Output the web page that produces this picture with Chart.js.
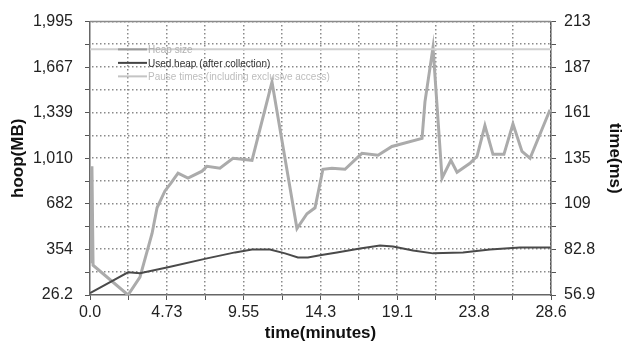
<!DOCTYPE html>
<html>
<head>
<meta charset="utf-8">
<script src="https://cdn.jsdelivr.net/npm/chart.js@4/dist/chart.umd.min.js"></script>
<style>
  html, body { margin: 0; padding: 0; background: #fff; }
  #wrap { width: 623px; height: 342px; }
</style>
</head>
<body>
<div id="wrap"><canvas id="myChart" width="623" height="342"></canvas></div>
<script>
// данные графика
let heapSizeMinutes = [0, 28.6];
let heapSizeMB = [1795, 1795];

let usedMinutes = [0, 2.36, 3.1, 4.84, 7.26, 9.0, 10.05, 11.17, 12.1, 12.9, 13.52, 14.27,
  15.32, 16.75, 17.99, 18.8, 20.04, 21.28, 23.14, 24.81, 26.67, 28.54];
let usedHeapMB = [40, 190, 183, 226, 290, 333, 354, 354, 326, 297, 297, 312,
  333, 361, 383, 376, 347, 326, 333, 354, 369, 369];

let pauseMinutes = [0.06, 0.12, 0.19, 2.36, 3.1, 3.85, 4.16, 4.65, 5.02, 5.46, 6.08, 6.95,
  7.26, 8.06, 8.87, 10.05, 11.29, 12.84, 13.46, 13.96, 14.45, 15.01, 15.82, 16.87,
  17.87, 18.73, 20.6, 20.78, 21.28, 21.84, 22.39, 22.77, 23.57, 24.01, 24.5, 25.0,
  25.68, 26.24, 26.8, 27.3, 28.54];
let pauseMs = [75, 130.4, 73.9, 56.9, 67.1, 92, 106.7, 116.3, 120.8, 126.5, 123.6, 127.6,
  130.4, 129.3, 135, 133.8, 178.5, 94.8, 103.3, 106.7, 128.7, 129.3, 128.7, 137.8,
  136.7, 141.7, 146.3, 167.2, 198.3, 123.6, 133.8, 127, 132.1, 136.1, 153.6, 137.2,
  137.2, 154.7, 138.9, 135, 162.7];

// подписи осей
let xLabels = ['0.0', '4.73', '9.55', '14.3', '19.1', '23.8', '28.6'];
let leftLabels = ['26.2', '354', '682', '1,010', '1,339', '1,667', '1,995'];
let rightLabels = ['56.9', '82.8', '109', '135', '161', '187', '213'];
let legendNames = ['Heap size', 'Used heap (after collection)', 'Pause times (including exclusive access)'];

function toPoints(xs, ys) {
  let pts = [];
  for (let i = 0; i < xs.length; i++) pts.push({ x: xs[i], y: ys[i] });
  return pts;
}

function steps(min, max, n) {
  let arr = [];
  for (let i = 0; i <= n; i++) arr.push({ value: min + (max - min) * i / n });
  return arr;
}

let tickFont = { family: '"Liberation Sans", Arial, sans-serif', size: 16 };
let titleFont = { family: '"Liberation Sans", Arial, sans-serif', size: 17, weight: 'bold', lineHeight: 1 };

let legendColors = ['#9a9a9a', '#444', '#c4c4c4'];
let legendTextColors = ['#b0b0b0', '#333', '#bdbdbd'];

let framePlugin = {
  id: 'frame',
  beforeDatasetsDraw(chart) {
    // пунктирная сетка
    let ctx = chart.ctx;
    let a = chart.chartArea;
    ctx.save();
    ctx.fillStyle = '#8a8a8a';
    chart.scales.x.ticks.forEach((t, i) => {
      if (i === 0) return;
      let x = Math.round(chart.scales.x.getPixelForValue(t.value));
      for (let y = a.bottom - 2; y > a.top + 1; y -= 4) ctx.fillRect(x - 1, y, 1.5, 1.5);
    });
    chart.scales.y.ticks.forEach((t, i) => {
      if (i === 0) return;
      let y = Math.round(chart.scales.y.getPixelForValue(t.value));
      for (let x = a.left + 2; x < a.right - 1; x += 4) ctx.fillRect(x, y - 1, 1.5, 1.5);
    });
    ctx.restore();
  },
  afterDraw(chart) {
    let ctx = chart.ctx;
    let a = chart.chartArea;
    ctx.save();
    ctx.strokeStyle = '#8a8a8a';
    ctx.lineWidth = 1.5;
    ctx.beginPath();
    ctx.moveTo(a.left, a.top);
    ctx.lineTo(a.right, a.top);
    ctx.stroke();
    // легенда внутри графика
    let yHeap = chart.scales.y.getPixelForValue(heapSizeMB[0]);
    ctx.font = '10px "Liberation Sans", Arial, sans-serif';
    ctx.textBaseline = 'middle';
    for (let i = 0; i < legendNames.length; i++) {
      let y = yHeap + i * 13.5;
      ctx.strokeStyle = legendColors[i];
      ctx.lineWidth = 2;
      ctx.beginPath();
      ctx.moveTo(118, y);
      ctx.lineTo(147, y);
      ctx.stroke();
      ctx.fillStyle = legendTextColors[i];
      ctx.fillText(legendNames[i], 148, y + 1);
    }
    ctx.restore();
  }
};

let data = {
  datasets: [
    {
      label: legendNames[0],
      data: toPoints(heapSizeMinutes, heapSizeMB),
      borderColor: '#cfcfcf',
      borderWidth: 2,
      yAxisID: 'y'
    },
    {
      label: legendNames[1],
      data: toPoints(usedMinutes, usedHeapMB),
      borderColor: '#4a4a4a',
      borderWidth: 2,
      yAxisID: 'y'
    },
    {
      label: legendNames[2],
      data: toPoints(pauseMinutes, pauseMs),
      borderColor: '#ababab',
      borderWidth: 3,
      yAxisID: 'y1'
    }
  ]
};

let config = {
  type: 'line',
  data: data,
  options: {
    responsive: false,
    animation: false,
    layout: { padding: { top: 19, right: 0, left: 0, bottom: 0 } },
    elements: { point: { radius: 0 }, line: { tension: 0 } },
    plugins: { legend: { display: false }, tooltip: { enabled: false } },
    scales: {
      x: {
        type: 'linear',
        min: 0,
        max: 28.6,
        afterBuildTicks: (s) => { s.ticks = steps(0, 28.6, 12); },
        afterFit: (s) => { s.height = 47; },
        ticks: {
          autoSkip: false,
          maxRotation: 0,
          padding: 3,
          color: '#222',
          font: tickFont,
          callback: (v, i) => (i % 2 === 0 ? xLabels[i / 2] : '')
        },
        grid: { drawOnChartArea: false, tickColor: '#555', tickLength: 5 },
        border: { color: '#666', width: 1.5 },
        title: { display: true, text: 'time(minutes)', color: '#111', font: titleFont, padding: { top: 0, bottom: 0 } }
      },
      y: {
        position: 'left',
        min: 26.2,
        max: 1995,
        afterBuildTicks: (s) => { s.ticks = steps(26.2, 1995, 12); },
        afterFit: (s) => { s.width = 90; },
        ticks: {
          autoSkip: false,
          padding: 12,
          color: '#222',
          font: tickFont,
          callback: (v, i) => (i % 2 === 0 ? leftLabels[i / 2] : '')
        },
        grid: { drawOnChartArea: false, tickColor: '#555', tickLength: 5 },
        border: { color: '#666', width: 1.5 },
        title: { display: true, text: 'hoop(MB)', color: '#111', font: titleFont, padding: { top: 10, bottom: 0 } }
      },
      y1: {
        position: 'right',
        min: 56.9,
        max: 213,
        afterBuildTicks: (s) => { s.ticks = steps(56.9, 213, 12); },
        afterFit: (s) => { s.width = 72; },
        ticks: {
          autoSkip: false,
          padding: 8,
          color: '#222',
          font: tickFont,
          callback: (v, i) => (i % 2 === 0 ? rightLabels[i / 2] : '')
        },
        grid: { drawOnChartArea: false, tickColor: '#555', tickLength: 5 },
        border: { color: '#555', width: 1.5 },
        title: { display: true, text: 'time(ms)', color: '#111', font: titleFont, padding: { top: 0, bottom: 0 } }
      }
    }
  },
  plugins: [framePlugin]
};

let myChart = new Chart(document.getElementById('myChart'), config);
</script>
</body>
</html>
